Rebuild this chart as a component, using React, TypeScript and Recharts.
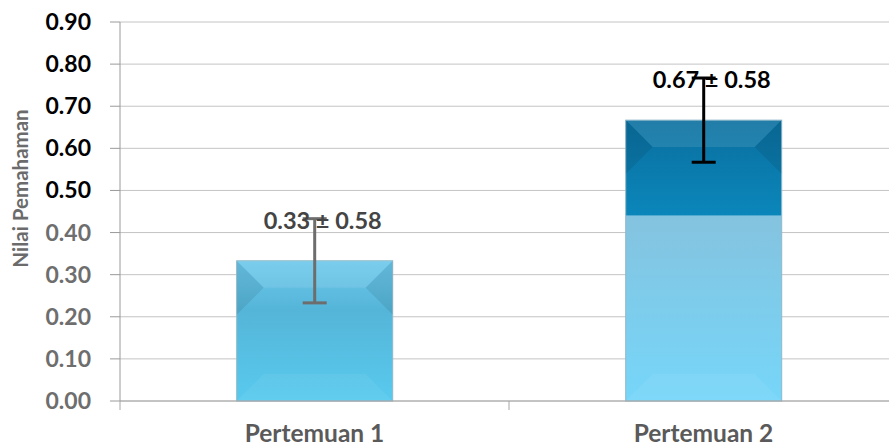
import React from 'react';
import { BarChart, Bar, XAxis, YAxis, CartesianGrid, ErrorBar, LabelList } from 'recharts';

const categories = ['Pertemuan 1', 'Pertemuan 2'];
const meanValues = [0.333, 0.667];
const errorExtent = [0.1, 0.1];
const valueLabels = ['0.33 ± 0.58', '0.67 ± 0.58'];
const yTicks = [0, 0.1, 0.2, 0.3, 0.4, 0.5, 0.6, 0.7, 0.8, 0.9];

const data = categories.map((name, i) => ({
  name,
  p1: i === 0 ? meanValues[i] : null,
  p2: i === 1 ? meanValues[i] : null,
  e1: i === 0 ? errorExtent[i] : null,
  e2: i === 1 ? errorExtent[i] : null,
  lab: valueLabels[i],
}));

const FONT = 'Lato, "Open Sans", sans-serif';

const makeShape = (gradId: string) => (props: any) => {
  const { x, y, width, height } = props;
  if (!height || height <= 0) return <g />;
  const d = Math.min(27, width / 4, height / 4);
  return (
    <g>
      <rect x={x} y={y} width={width} height={height} fill={`url(#${gradId})`} stroke="#8fb9c9" strokeWidth={1} />
      <path d={`M${x},${y} L${x + width},${y} L${x + width - d},${y + d} L${x + d},${y + d} Z`} fill="#ffffff" fillOpacity={0.1} />
      <path d={`M${x},${y} L${x + d},${y + d} L${x},${y + 2 * d} Z`} fill="#000000" fillOpacity={0.08} />
      <path d={`M${x + width},${y} L${x + width - d},${y + d} L${x + width},${y + 2 * d} Z`} fill="#000000" fillOpacity={0.08} />
      <path d={`M${x},${y + height} L${x + width},${y + height} L${x + width - d},${y + height - d} L${x + d},${y + height - d} Z`} fill="#ffffff" fillOpacity={0.06} />
    </g>
  );
};

const makeLabel = (color: string) => (props: any) => {
  const { x, y, width, height, index } = props;
  if (index == null || !height) return null;
  const mean = meanValues[index];
  const err = errorExtent[index];
  const top = y - (height * err) / mean;
  return (
    <text x={x + width / 2 + 8} y={top + 10} textAnchor="middle" fontFamily={FONT} fontWeight={700} fontSize={23.5} fill={color}>
      {valueLabels[index]}
    </text>
  );
};

const YTick = (props: any) => {
  const { x, y, payload } = props;
  const color = payload.value >= 0.45 ? '#000000' : '#6e6e6e';
  return (
    <text x={x} y={y} dy={8} textAnchor="end" fontFamily={FONT} fontWeight={700} fontSize={23} fill={color}>
      {Number(payload.value).toFixed(2)}
    </text>
  );
};

const XTick = (props: any) => {
  const { x, y, payload, index } = props;
  const half = payload && payload.offset ? payload.offset : 195;
  const left = x - half;
  return (
    <g>
      <line x1={left} y1={y} x2={left} y2={y + 9} stroke="#a6a6a6" strokeWidth={1} />
      {index === categories.length - 1 ? (
        <line x1={x + half} y1={y} x2={x + half} y2={y + 9} stroke="#a6a6a6" strokeWidth={1} />
      ) : null}
      <text x={x} y={y + 41} textAnchor="middle" fontFamily={FONT} fontWeight={700} fontSize={24.5} fill="#5a5a5a">
        {payload.value}
      </text>
    </g>
  );
};

const YTitle = (props: any) => {
  const vb = props.viewBox || {};
  const cx = 20;
  const cy = vb.y + vb.height / 2 - 23;
  return (
    <text x={cx} y={cy} transform={`rotate(-90, ${cx}, ${cy})`} textAnchor="middle" dominantBaseline="central" fontFamily={FONT} fontWeight={700} fontSize={20.5} fill="#6b6b6b">
      Nilai Pemahaman
    </text>
  );
};

export default function App() {
  return (
    <div style={{ position: 'absolute', left: 0, top: 0, width: 889, height: 448, overflow: 'hidden', background: '#ffffff' }}>
      <BarChart width={900} height={448} data={data} margin={{ top: 22, right: 2, bottom: 0, left: 0 }} barCategoryGap="30%">
        <defs>
          <linearGradient id="g1" x1="0" y1="0" x2="0" y2="1">
            <stop offset="0%" stopColor="#6cc8ec" />
            <stop offset="35%" stopColor="#55b5d8" />
            <stop offset="100%" stopColor="#58caee" />
          </linearGradient>
          <linearGradient id="g2" x1="0" y1="0" x2="0" y2="1">
            <stop offset="0%" stopColor="#0a6f9f" />
            <stop offset="33.9%" stopColor="#0b86ba" />
            <stop offset="34%" stopColor="#84c3df" />
            <stop offset="100%" stopColor="#76d6f9" />
          </linearGradient>
        </defs>
        <CartesianGrid vertical={false} stroke="#c4c4c4" strokeWidth={1} />
        <XAxis xAxisId="a" dataKey="name" height={47} axisLine={{ stroke: '#a6a6a6' }} tickLine={false} tick={<XTick />} tickSize={0} tickMargin={0} />
        <YAxis width={120} domain={[0, 0.9]} ticks={yTicks} axisLine={{ stroke: '#9a9a9a' }} tickLine={{ stroke: '#9a9a9a' }} tickSize={10} tickMargin={19} tick={<YTick />} label={<YTitle />} />
        <Bar xAxisId="a" dataKey="p1" stackId="s" isAnimationActive={false} shape={makeShape('g1')}>
          <ErrorBar dataKey="e1" width={12} stroke="#6d6d6d" strokeWidth={3} direction="y" />
          <LabelList dataKey="lab" content={makeLabel('#444444')} />
        </Bar>
        <Bar xAxisId="a" dataKey="p2" stackId="s" isAnimationActive={false} shape={makeShape('g2')}>
          <ErrorBar dataKey="e2" width={12} stroke="#000000" strokeWidth={3} direction="y" />
          <LabelList dataKey="lab" content={makeLabel('#000000')} />
        </Bar>
      </BarChart>
    </div>
  );
}
